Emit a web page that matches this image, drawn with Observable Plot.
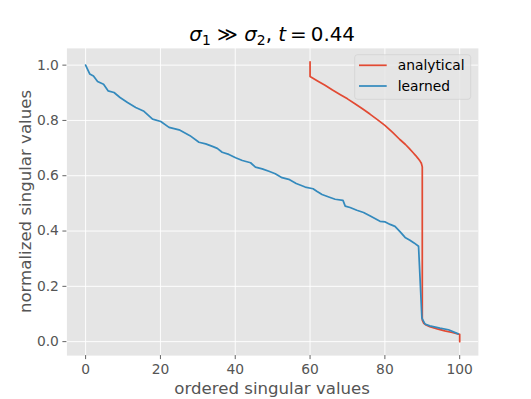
<!DOCTYPE html>
<html>
<head>
<meta charset="utf-8">
<script src="https://cdn.jsdelivr.net/npm/d3@7"></script>
<script src="https://cdn.jsdelivr.net/npm/@observablehq/plot@0.6"></script>
<style>
  html, body { margin: 0; padding: 0; background: white; }
  #chart { width: 531px; height: 399px; }
</style>
</head>
<body>
<div id="chart"></div>
<script>
// ---- data ----
const seriesNames = ["analytical", "learned"];
const seriesColors = ["#E24A33", "#348ABD"];

const analyticalX = [60, 60, 62, 64, 66, 68, 70, 72, 74, 76, 78, 80, 82, 84, 85.5, 86.5, 87.5, 88.3, 88.9, 89.4, 89.75, 90, 90, 90.4, 91, 92, 94, 96, 98, 100, 100];
const analyticalY = [1.012, 0.959, 0.943, 0.927, 0.910, 0.894, 0.878, 0.860, 0.842, 0.823, 0.803, 0.782, 0.758, 0.731, 0.713, 0.699, 0.684, 0.672, 0.662, 0.653, 0.645, 0.632, 0.078, 0.066, 0.060, 0.054, 0.046, 0.039, 0.033, 0.026, 0.0];

const learnedX = [0, 1.1, 2.1, 3.2, 4.8, 6, 7.6, 9.2, 11.2, 13.4, 15.6, 17.9, 20.1, 22.3, 25, 27.9, 30.3, 32.1, 33.9, 35.2, 36.5, 38.3, 40.1, 41.9, 44.1, 45.4, 47.2, 49, 50.7, 52.5, 54.3, 56.3, 58.7, 60.8, 61.9, 63.2, 65, 66.7, 68.8, 69.4, 70.7, 72.5, 74.3, 76.1, 78.7, 80.1, 81.4, 82.7, 84.1, 85.4, 86.7, 87.8, 89, 89.9, 90.7, 92, 94.7, 97, 99.6];
const learnedY = [1.0, 0.968, 0.961, 0.941, 0.931, 0.907, 0.901, 0.883, 0.865, 0.847, 0.833, 0.805, 0.796, 0.775, 0.766, 0.745, 0.721, 0.715, 0.706, 0.699, 0.685, 0.677, 0.665, 0.655, 0.647, 0.631, 0.625, 0.616, 0.607, 0.593, 0.587, 0.572, 0.559, 0.553, 0.543, 0.532, 0.523, 0.515, 0.511, 0.490, 0.485, 0.475, 0.467, 0.454, 0.435, 0.433, 0.424, 0.417, 0.397, 0.377, 0.367, 0.357, 0.345, 0.085, 0.064, 0.057, 0.049, 0.043, 0.028];

const xTicks = [0, 20, 40, 60, 80, 100];
const yTicks = [0.0, 0.2, 0.4, 0.6, 0.8, 1.0];
const xLabel = "ordered singular values";
const yLabel = "normalized singular values";

// ---- build tables ----
const analytical = analyticalX.map((x, i) => ({x, y: analyticalY[i]}));
const learned = learnedX.map((x, i) => ({x, y: learnedY[i]}));

const W = 531, H = 399;
const mL = 66.4, mR = 53.1, mT = 47.9, mB = 43.9;
const FONT = "DejaVu Sans";

const chart = Plot.plot({
  width: W,
  height: H,
  marginLeft: mL, marginRight: mR, marginTop: mT, marginBottom: mB,
  style: {fontFamily: FONT, fontSize: "13.83px", color: "#555555", background: "white", overflow: "visible"},
  x: {domain: [-5, 105]},
  y: {domain: [-0.0505, 1.0605]},
  marks: [
    Plot.frame({fill: "#E5E5E5", stroke: "none"}),
    Plot.gridX(xTicks, {stroke: "white", strokeOpacity: 1, strokeWidth: 0.92}),
    Plot.gridY(yTicks, {stroke: "white", strokeOpacity: 1, strokeWidth: 0.92}),
    Plot.axisX(xTicks, {tickSize: 4, tickPadding: 5, tickFormat: d => String(d), label: null, strokeWidth: 0.92}),
    Plot.axisY(yTicks, {tickSize: 4, tickPadding: 4, tickFormat: d3.format(".1f"), label: null, strokeWidth: 0.92}),
    Plot.line(analytical, {x: "x", y: "y", stroke: seriesColors[0], strokeWidth: 1.73}),
    Plot.line(learned, {x: "x", y: "y", stroke: seriesColors[1], strokeWidth: 1.73})
  ]
});

document.getElementById("chart").appendChild(chart);

// ---- title, axis labels, legend ----
const svg = d3.select(chart);
const cx = mL + (W - mL - mR) / 2;
const cy = mT + (H - mT - mB) / 2;

// title
const title = svg.append("text")
  .attr("x", cx).attr("y", 41)
  .attr("text-anchor", "middle")
  .attr("font-family", FONT).attr("font-size", 19.9).attr("fill", "black");
title.append("tspan").attr("font-style", "italic").text("σ");
title.append("tspan").attr("font-size", 13.9).attr("dy", 4).text("1");
title.append("tspan").attr("dy", -4).text(" ≫ ");
title.append("tspan").attr("font-style", "italic").text("σ");
title.append("tspan").attr("font-size", 13.9).attr("dy", 4).text("2");
title.append("tspan").attr("dy", -4).text(", ");
title.append("tspan").attr("font-style", "italic").text("t");
title.append("tspan").text("\u2009=\u20090.44");

// x label
svg.append("text")
  .attr("x", cx).attr("y", 394)
  .attr("text-anchor", "middle")
  .attr("font-family", FONT).attr("font-size", 16.6).attr("fill", "#555555")
  .text(xLabel);

// y label
svg.append("text")
  .attr("transform", `translate(31,${cy}) rotate(-90)`)
  .attr("text-anchor", "middle")
  .attr("font-family", FONT).attr("font-size", 16.6).attr("fill", "#555555")
  .text(yLabel);

// legend
const lg = svg.append("g");
lg.append("rect")
  .attr("x", 354.7).attr("y", 54.7).attr("width", 116).attr("height", 44.6)
  .attr("rx", 2.8).attr("ry", 2.8)
  .attr("fill", "#E5E5E5").attr("fill-opacity", 0.8)
  .attr("stroke", "#CCCCCC").attr("stroke-width", 0.6);
seriesNames.forEach((name, i) => {
  const yy = 65.3 + i * 20.7;
  lg.append("line")
    .attr("x1", 359).attr("x2", 386.7).attr("y1", yy).attr("y2", yy)
    .attr("stroke", seriesColors[i]).attr("stroke-width", 1.73);
  lg.append("text")
    .attr("x", 397.7).attr("y", yy + 4.8)
    .attr("text-anchor", "start")
    .attr("font-family", FONT).attr("font-size", 13.83).attr("fill", "black")
    .text(name);
});
</script>
</body>
</html>
